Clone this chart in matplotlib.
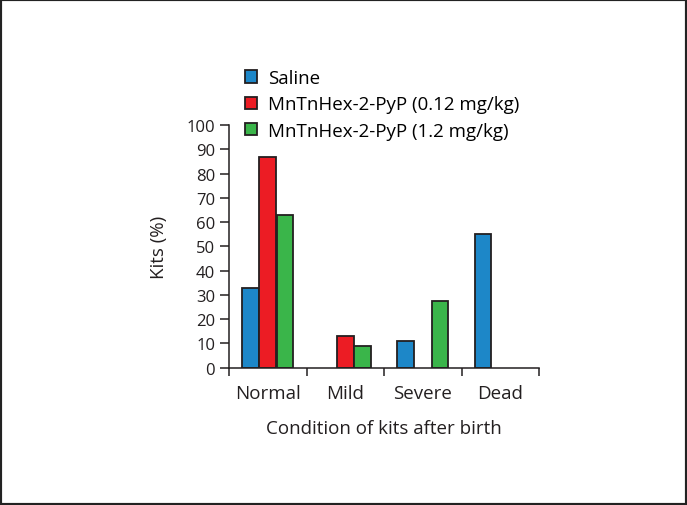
import numpy as np
import matplotlib
matplotlib.use("Agg")
import matplotlib.pyplot as plt
from matplotlib.patches import Rectangle

plt.rcParams['font.family'] = ['Open Sans', 'DejaVu Sans']

# ------ data ------
categories = ['Normal', 'Mild', 'Severe', 'Dead']
series_names = ['Saline', 'MnTnHex-2-PyP (0.12 mg/kg)', 'MnTnHex-2-PyP (1.2 mg/kg)']
saline = [33, 0, 11, 55]
mn_low = [87, 13, 0, 0]
mn_high = [63, 9, 27.5, 0]
yticks = list(range(0, 101, 10))

colors = ['#1d87c8', '#ec1c24', '#3ab54a']
edge = '#231f20'

fig = plt.figure(figsize=(6.87, 5.06), dpi=100)
ax = fig.add_axes([229 / 687, 1 - 368.7 / 506, 310 / 687, 242.7 / 506])

x = np.arange(len(categories))
width = 0.215
offsets = [-0.222, 0, 0.222]
for vals, off, c, name in zip([saline, mn_low, mn_high], offsets, colors, series_names):
    v = np.array(vals, dtype=float)
    # zero-height bars are not drawn in the reference
    ax.bar(x + off, np.where(v > 0, v, np.nan), width, color=c, edgecolor=edge,
           linewidth=1.3, label=name, zorder=2)

ax.set_xlim(-0.5, 3.5)
ax.set_ylim(0, 100)
ax.set_yticks(yticks)
ax.tick_params(axis='y', labelsize=12, length=6.5, width=1.1, color=edge, pad=3.5,
               labelcolor=edge)

# tick marks at category boundaries, labels at centres
ax.set_xticks(np.arange(-0.5, 4, 1))
ax.set_xticklabels([])
ax.tick_params(axis='x', which='major', length=6, width=1.1, color=edge)
ax.set_xticks(x, minor=True)
ax.set_xticklabels(categories, minor=True)
ax.tick_params(axis='x', which='minor', length=0, pad=12, labelsize=13.5, labelcolor=edge)

for s in ['top', 'right']:
    ax.spines[s].set_visible(False)
for s in ['left', 'bottom']:
    ax.spines[s].set_linewidth(1.1)
    ax.spines[s].set_color(edge)

ax.set_xlabel('Condition of kits after birth', fontsize=13.5, color=edge, labelpad=12)
ax.set_ylabel('Kits (%)', fontsize=13.5, color=edge, labelpad=13)

fig.legend(loc='upper left', bbox_to_anchor=(245 / 687, 1 - 70 / 506), frameon=False,
           fontsize=13.5, handlelength=0.64, handleheight=0.64, handletextpad=0.6,
           labelspacing=0.45, borderaxespad=0, borderpad=0)

# dark frame round the whole picture
fig.patches.append(Rectangle((0, 0), 1, 1, transform=fig.transFigure, fill=False,
                             edgecolor='#222222', linewidth=3, zorder=10))

fig.savefig('out.png', dpi=100, facecolor='white')
